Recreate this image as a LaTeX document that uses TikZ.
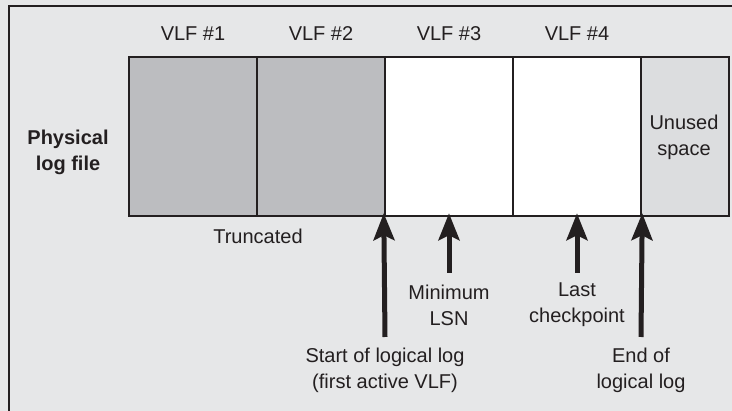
\documentclass[tikz,border=0pt]{standalone}
\usepackage{fontspec}
\setmainfont{Liberation Sans}
\usetikzlibrary{arrows.meta}
\definecolor{bgc}{RGB}{230,231,232}
\definecolor{darkfill}{RGB}{188,189,192}
\definecolor{lightfill}{RGB}{220,221,223}
\definecolor{ink}{RGB}{35,31,32}
\begin{document}
\begin{tikzpicture}[x=1pt,y=-1pt,
  every node/.style={font=\fontsize{20}{26}\selectfont, align=center, inner sep=0pt, text=ink},
  seg/.style={draw=ink, line width=2.5pt, minimum height=159pt},
  ptr/.style={draw=ink, line width=5pt, -{Stealth[length=27pt,width=21pt,inset=5pt]}}]
\useasboundingbox (0,0) rectangle (732,411);
\fill[bgc] (0,0) rectangle (732,411);
\draw[ink, line width=2.5pt] (9,412) -- (9,6) -- (733,6);
% segments
\node[seg, fill=darkfill, minimum width=128pt] (v1) at (193,136.5) {};
\node[seg, fill=darkfill, minimum width=128pt] (v2) at (321,136.5) {};
\node[seg, fill=white, minimum width=128pt] (v3) at (449,136.5) {};
\node[seg, fill=white, minimum width=128pt] (v4) at (577,136.5) {};
\node[seg, fill=lightfill, minimum width=88pt] (un) at (685,136.5) {};
% labels
\node (l1) at (193,34) {VLF \#1};
\node (l2) at (321,34) {VLF \#2};
\node (l3) at (449,34) {VLF \#3};
\node (l4) at (577,34) {VLF \#4};
\node[font=\fontsize{20}{26}\selectfont\bfseries] (phys) at (68,152) {Physical\\log file};
\node (unt) at (684,137) {Unused\\space};
\node (trunc) at (258,236) {Truncated};
% arrow labels
\node (minlsn) at (449,305) {Minimum\\LSN};
\node (lastcp) at (577,305) {Last\\checkpoint};
\node (start) at (385,370) {Start of logical log\\(first active VLF)};
\node (endl) at (641,370) {End of\\logical log};
% arrow tails
\coordinate (t1) at (385,337);
\coordinate (t2) at (449,273);
\coordinate (t3) at (577,273);
\coordinate (t4) at (641,337);
\draw[ptr] (t1) -- ([yshift=4pt]v3.south west);
\draw[ptr] (t2) -- ([yshift=4pt]v3.south);
\draw[ptr] (t3) -- ([yshift=4pt]v4.south);
\draw[ptr] (t4) -- ([yshift=4pt]v4.south east);
\end{tikzpicture}
\end{document}
